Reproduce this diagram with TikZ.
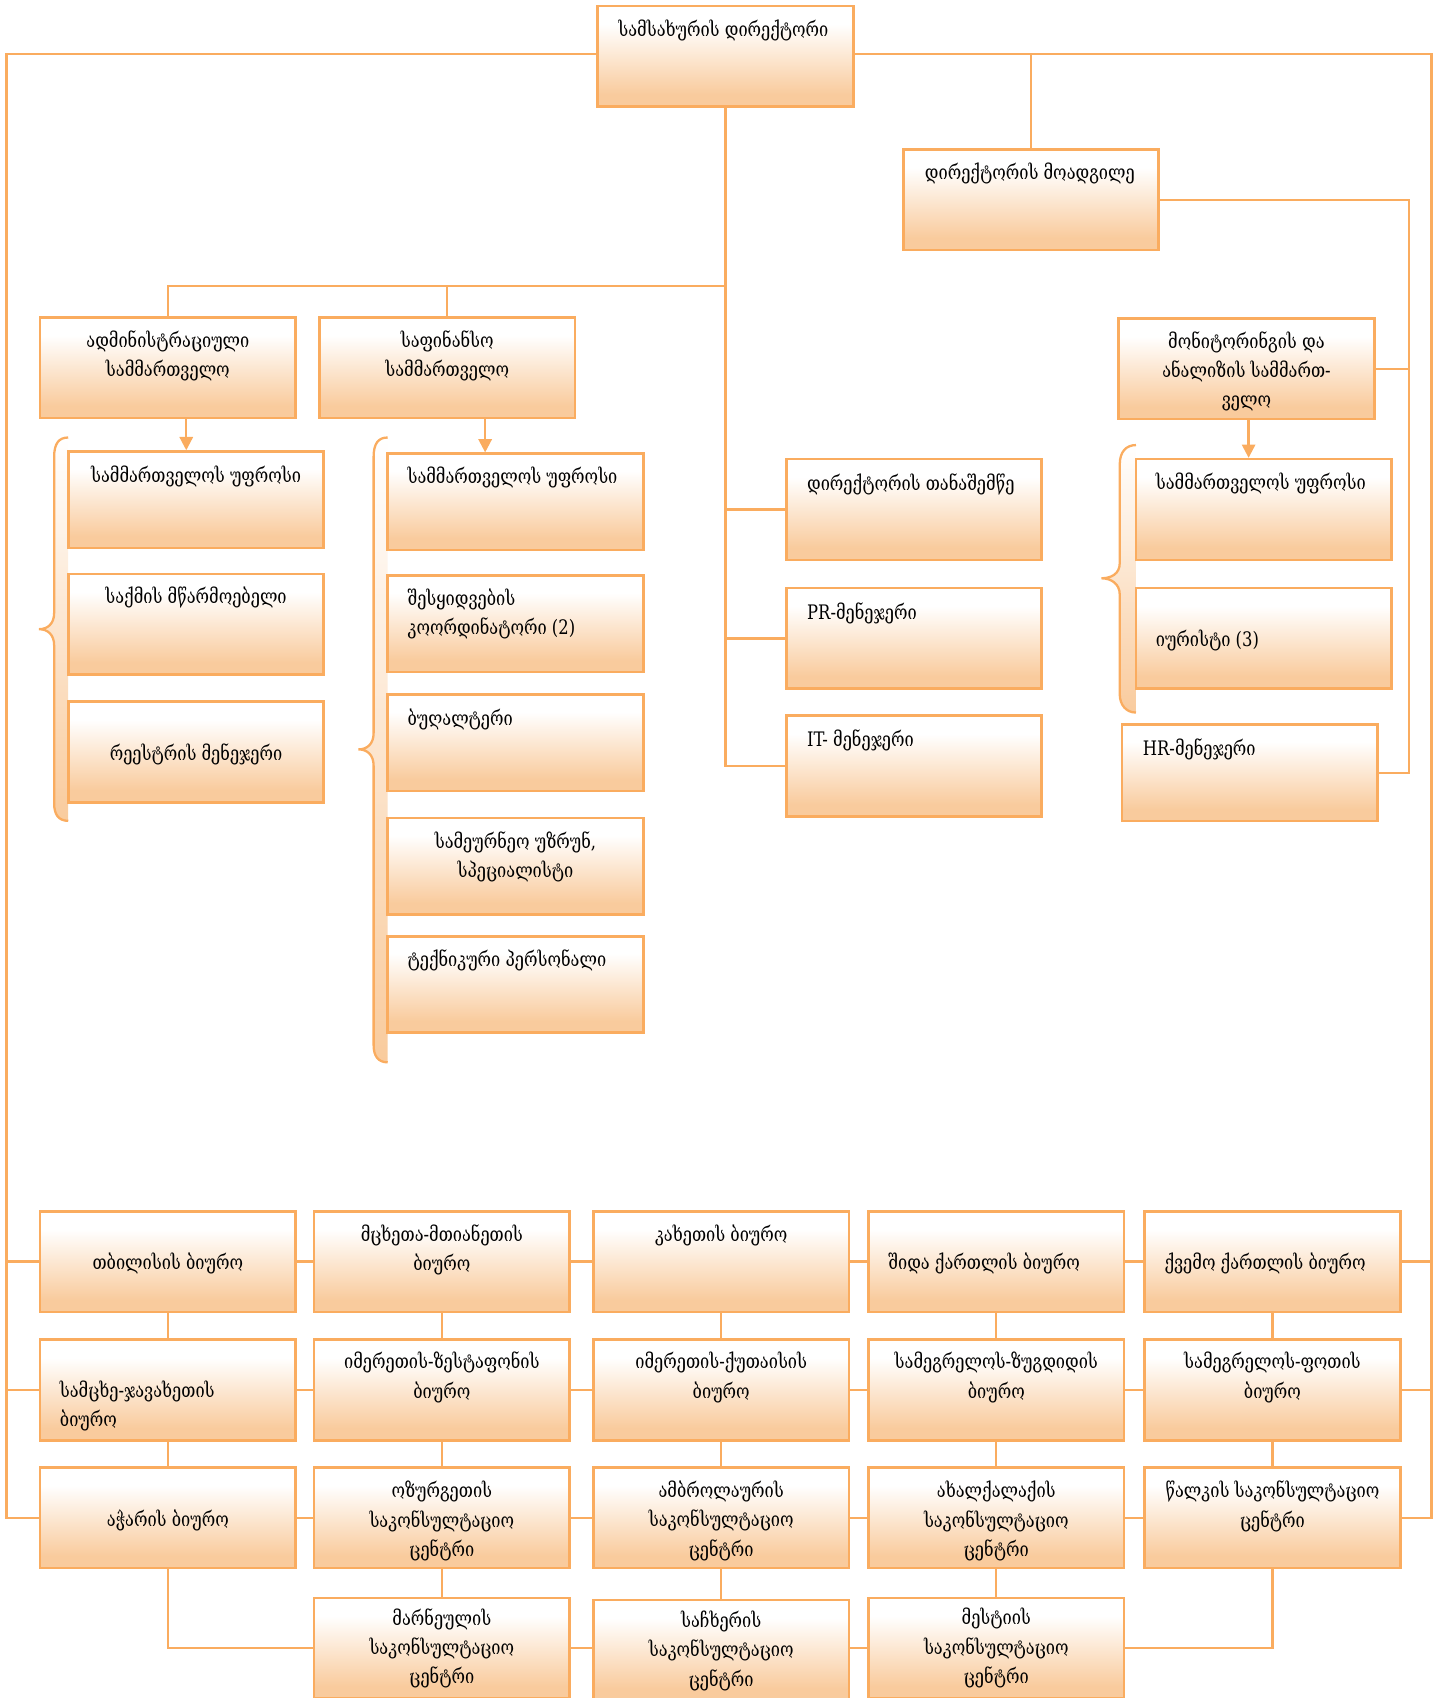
\documentclass[tikz,border=0pt]{standalone}
\usepackage{fontspec}
\setmainfont[FakeStretch=0.82]{DejaVu Serif}
\usetikzlibrary{positioning}
\usetikzlibrary{arrows.meta}

\definecolor{boxline}{RGB}{250,172,95}
\definecolor{boxpeach}{RGB}{249,203,157}
\pgfdeclareverticalshading{boxfade}{100bp}{color(0bp)=(boxpeach); color(31bp)=(boxpeach); color(66bp)=(white); color(100bp)=(white)}

\begin{document}
\begin{tikzpicture}[x=0.02cm,y=-0.02cm,
  box/.style={rectangle,draw=boxline,line width=1.4pt,shading=boxfade,minimum width=4.72cm,minimum height=1.86cm,inner sep=0pt},
  subbox/.style={box,minimum height=1.78cm},
  txt/.style={font=\fontsize{10.5}{15.4}\selectfont,text=black,inner sep=0pt,align=center},
  conn/.style={draw=boxline,line width=1.2pt},
  arr/.style={conn,-{Triangle[width=7pt,length=7pt]}}]
\useasboundingbox (0,0) rectangle (1330,1568);
\clip (0,0) rectangle (1330,1568);

% braces
\shade[top color=white,bottom color=boxpeach] (63,404) .. controls (54,404) and (50,410) .. (50,422) -- (50,566) .. controls (50,576) and (44,581) .. (36,581) .. controls (44,581) and (50,586) .. (50,596) -- (50,742) .. controls (50,752) and (54,758) .. (63,758) -- cycle;
\draw[conn] (63,404) .. controls (54,404) and (50,410) .. (50,422) -- (50,566) .. controls (50,576) and (44,581) .. (36,581) .. controls (44,581) and (50,586) .. (50,596) -- (50,742) .. controls (50,752) and (54,758) .. (63,758);
\shade[top color=white,bottom color=boxpeach] (358,404) .. controls (349,404) and (345,410) .. (345,422) -- (345,677) .. controls (345,687) and (339,692) .. (331,692) .. controls (339,692) and (345,697) .. (345,707) -- (345,965) .. controls (345,975) and (349,981) .. (358,981) -- cycle;
\draw[conn] (358,404) .. controls (349,404) and (345,410) .. (345,422) -- (345,677) .. controls (345,687) and (339,692) .. (331,692) .. controls (339,692) and (345,697) .. (345,707) -- (345,965) .. controls (345,975) and (349,981) .. (358,981);
\shade[top color=white,bottom color=boxpeach] (1049,411) .. controls (1040,411) and (1034,417) .. (1034,429) -- (1034,520) .. controls (1034,530) and (1026,534) .. (1017,534) .. controls (1026,534) and (1034,539) .. (1034,549) -- (1034,641) .. controls (1034,651) and (1040,658) .. (1049,658) -- cycle;
\draw[conn] (1049,411) .. controls (1040,411) and (1034,417) .. (1034,429) -- (1034,520) .. controls (1034,530) and (1026,534) .. (1017,534) .. controls (1026,534) and (1034,539) .. (1034,549) -- (1034,641) .. controls (1034,651) and (1040,658) .. (1049,658);

% head office
\node[box] (dir) at (670,52) {};
\node[box] (dep) at (952,184.5) {};
\node[box] (adm) at (155,339.5) {};
\node[box] (fin) at (413,339.5) {};
\node[box] (mon) at (1151,340.5) {};
\node[subbox] (as1) at (181,461.5) {};
\node[box] (as2) at (181,576.5) {};
\node[box] (as3) at (181,694.5) {};
\node[subbox] (fs1) at (476,463.5) {};
\node[subbox] (fs2) at (476,576) {};
\node[subbox] (fs3) at (476,686) {};
\node[subbox] (fs4) at (476,800) {};
\node[subbox] (fs5) at (476,909) {};
\node[box] (ast) at (844,470.5) {};
\node[box] (pr) at (844,589.5) {};
\node[box] (it) at (844,707.5) {};
\node[box] (ms1) at (1167,470.5) {};
\node[box] (ms2) at (1167,589.5) {};
\node[subbox] (hr) at (1154,713.5) {};

\node[txt] (t-dir) at (668,28) {სამსახურის დირექტორი};
\node[txt] (t-dep) at (951,160) {დირექტორის მოადგილე};
\node[txt] (t-adm) at (155,328.5) {ადმინისტრაციული\\სამმართველო};
\node[txt] (t-fin) at (413,328.5) {საფინანსო\\სამმართველო};
\node[txt] (t-mon) at (1151,343) {მონიტორინგის და\\ანალიზის სამმართ-\\ველო};
\node[txt] (t-as1) at (181,440) {სამმართველოს უფროსი};
\node[txt] (t-as2) at (181,552) {საქმის მწარმოებელი};
\node[txt] (t-as3) at (181,697) {რეესტრის მენეჯერი};
\node[txt,anchor=west] (t-fs1) at (376,441) {სამმართველოს უფროსი};
\node[txt,anchor=west,align=left] (t-fs2) at (376,567) {შესყიდვების\\კოორდინატორი (2)};
\node[txt,anchor=west] (t-fs3) at (376,664) {ბუღალტერი};
\node[txt] (t-fs4) at (476,791.5) {სამეურნეო უზრუნ,\\სპეციალისტი};
\node[txt,anchor=west] (t-fs5) at (376,887) {ტექნიკური პერსონალი};
\node[txt,anchor=west] (t-ast) at (745,447) {დირექტორის თანაშემწე};
\node[txt,anchor=west] (t-pr) at (745,566) {PR-მენეჯერი};
\node[txt,anchor=west] (t-it) at (745,684) {IT- მენეჯერი};
\node[txt,anchor=west] (t-ms1) at (1067,446) {სამმართველოს უფროსი};
\node[txt,anchor=west] (t-ms2) at (1067,591) {იურისტი (3)};
\node[txt,anchor=west] (t-hr) at (1055,692) {HR-მენეჯერი};

% regional offices
\node[box] (tbi) at (155,1165) {};
\node[box] (mtsk) at (408,1165) {};
\node[box] (kakh) at (666,1165) {};
\node[box] (shida) at (920,1165) {};
\node[box] (kvemo) at (1175,1165) {};
\node[box] (samtskhe) at (155,1283.5) {};
\node[box] (zest) at (408,1283.5) {};
\node[box] (kut) at (666,1283.5) {};
\node[box] (zug) at (920,1283.5) {};
\node[box] (poti) at (1175,1283.5) {};
\node[box] (adj) at (155,1401.5) {};
\node[box] (ozur) at (408,1401.5) {};
\node[box] (ambr) at (666,1401.5) {};
\node[box] (akhal) at (920,1401.5) {};
\node[box] (tsalka) at (1175,1401.5) {};
\node[box] (marn) at (408,1522) {};
\node[box] (sach) at (666,1524) {};
\node[box] (mest) at (920,1522) {};

\node[txt] (t-tbi) at (155,1167) {თბილისის ბიურო};
\node[txt] (t-mtsk) at (408,1154) {მცხეთა-მთიანეთის\\ბიურო};
\node[txt] (t-kakh) at (666,1141) {კახეთის ბიურო};
\node[txt,anchor=west] (t-shida) at (820,1167) {შიდა ქართლის ბიურო};
\node[txt,anchor=west] (t-kvemo) at (1075,1167) {ქვემო ქართლის ბიურო};
\node[txt,anchor=west,align=left] (t-samtskhe) at (55,1298) {სამცხე-ჯავახეთის\\ბიურო};
\node[txt] (t-zest) at (408,1272) {იმერეთის-ზესტაფონის\\ბიურო};
\node[txt] (t-kut) at (666,1272) {იმერეთის-ქუთაისის\\ბიურო};
\node[txt] (t-zug) at (920,1272) {სამეგრელოს-ზუგდიდის\\ბიურო};
\node[txt] (t-poti) at (1175,1272) {სამეგრელოს-ფოთის\\ბიურო};
\node[txt] (t-adj) at (155,1404) {აჭარის ბიურო};
\node[txt] (t-ozur) at (408,1404.5) {ოზურგეთის\\საკონსულტაციო\\ცენტრი};
\node[txt] (t-ambr) at (666,1404.5) {ამბროლაურის\\საკონსულტაციო\\ცენტრი};
\node[txt] (t-akhal) at (920,1404.5) {ახალქალაქის\\საკონსულტაციო\\ცენტრი};
\node[txt] (t-tsalka) at (1175,1391) {წალკის საკონსულტაციო\\ცენტრი};
\node[txt] (t-marn) at (408,1522) {მარნეულის\\საკონსულტაციო\\ცენტრი};
\node[txt] (t-sach) at (666,1524.5) {საჩხერის\\საკონსულტაციო\\ცენტრი};
\node[txt] (t-mest) at (920,1522) {მესტიის\\საკონსულტაციო\\ცენტრი};

% connectors
\coordinate (lt) at (6,50);
\coordinate (rt) at (1322,50);
\coordinate (cj) at (670,264);
\coordinate (dr) at (1301,184.5);
\draw[conn] (dir.west |- lt) -- (lt) |- (adj.west);
\draw[conn] (lt) |- (tbi.west);
\draw[conn] (lt) |- (samtskhe.west);
\draw[conn] (dir.east |- rt) -- (rt) |- (tsalka.east);
\draw[conn] (rt) |- (kvemo.east);
\draw[conn] (rt) |- (poti.east);
\draw[conn] (dep.north |- rt) -- (dep.north);
\draw[conn] (dir.south) |- (it.west);
\draw[conn] (dir.south |- ast.west) -- (ast.west);
\draw[conn] (dir.south |- pr.west) -- (pr.west);
\draw[conn] (cj) -| (adm.north);
\draw[conn] (cj) -| (fin.north);
\draw[conn] (dep.east) -- (dr) |- (hr.east);
\draw[conn] (dr) |- (mon.east);
\draw[arr] (adm.south) ++(17,0) coordinate (a1) -- (a1 |- as1.north);
\draw[arr] (fin.south) ++(35,0) coordinate (a2) -- (a2 |- fs1.north);
\draw[arr] (mon.south) ++(2,0) coordinate (a3) -- (a3 |- ms1.north);

\draw[conn] (tbi) -- (mtsk);
\draw[conn] (mtsk) -- (kakh);
\draw[conn] (kakh) -- (shida);
\draw[conn] (shida) -- (kvemo);
\draw[conn] (samtskhe) -- (zest);
\draw[conn] (zest) -- (kut);
\draw[conn] (kut) -- (zug);
\draw[conn] (zug) -- (poti);
\draw[conn] (adj) -- (ozur);
\draw[conn] (ozur) -- (ambr);
\draw[conn] (ambr) -- (akhal);
\draw[conn] (akhal) -- (tsalka);
\draw[conn] (marn.east) -- (sach.west |- marn.east);
\draw[conn] (sach.east |- mest.west) -- (mest.west);
\draw[conn] (tbi) -- (samtskhe);
\draw[conn] (samtskhe) -- (adj);
\draw[conn] (mtsk) -- (zest);
\draw[conn] (zest) -- (ozur);
\draw[conn] (ozur) -- (marn);
\draw[conn] (kakh) -- (kut);
\draw[conn] (kut) -- (ambr);
\draw[conn] (ambr) -- (sach);
\draw[conn] (shida) -- (zug);
\draw[conn] (zug) -- (akhal);
\draw[conn] (akhal) -- (mest);
\draw[conn] (kvemo) -- (poti);
\draw[conn] (poti) -- (tsalka);
\draw[conn] (adj.south) |- (marn.west);
\draw[conn] (tsalka.south) |- (mest.east);
\end{tikzpicture}
\end{document}
